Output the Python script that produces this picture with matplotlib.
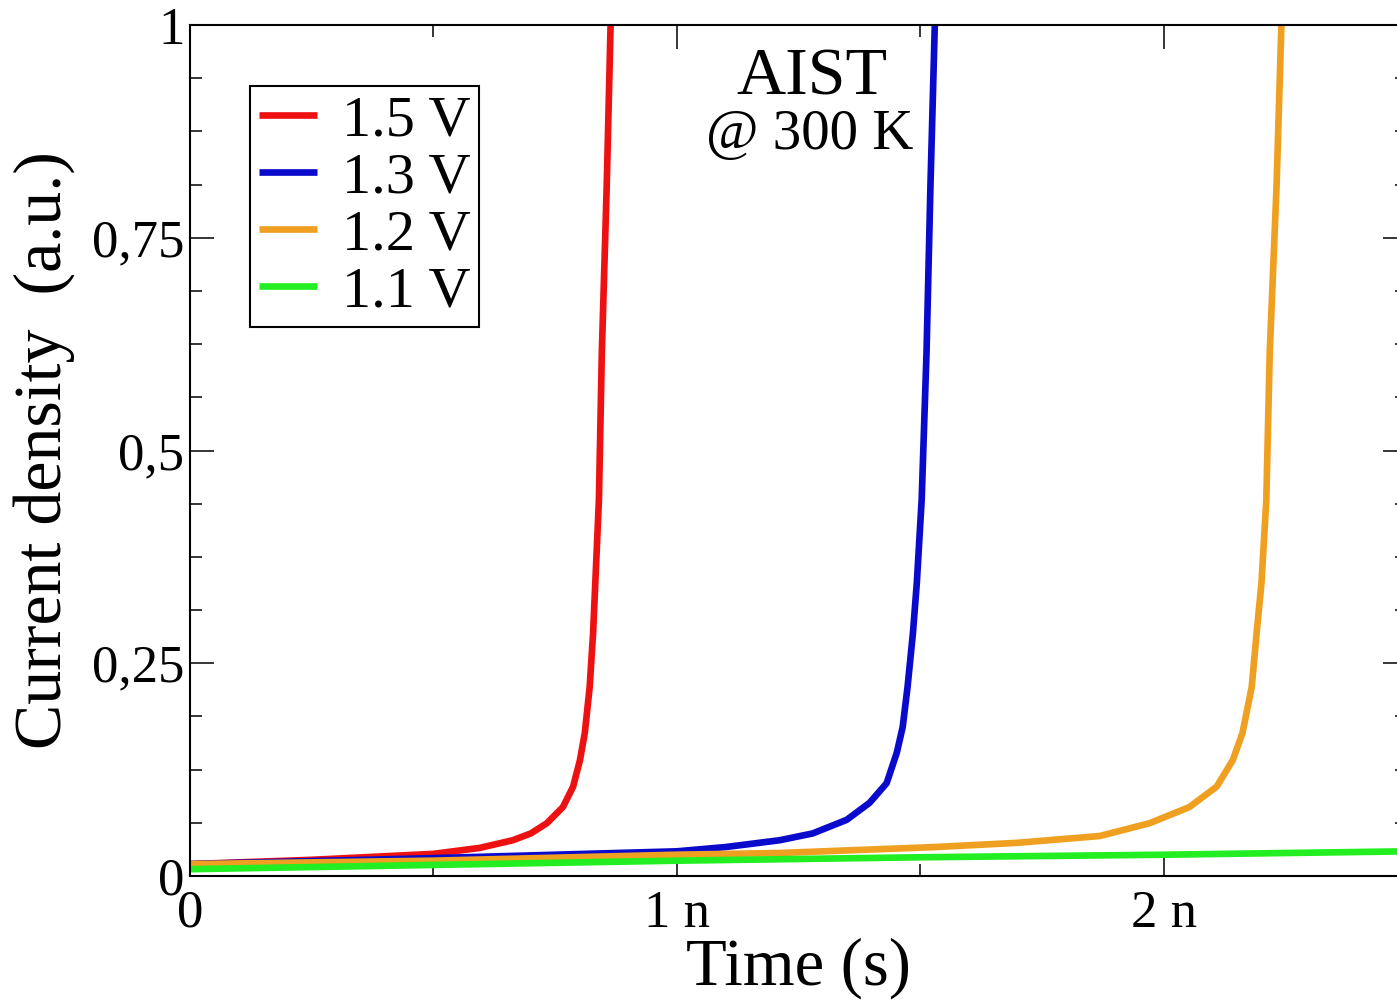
import numpy as np
import matplotlib.pyplot as plt
from matplotlib.ticker import MultipleLocator, FuncFormatter

plt.rcParams['font.family'] = ['Liberation Serif', 'DejaVu Serif']

# ===== Datos (tiempo en ns, corriente en u.a.) =====
t_15 = [0.0, 0.25, 0.5, 0.595, 0.663, 0.70, 0.733, 0.766, 0.787, 0.801, 0.811,
        0.821, 0.828, 0.834, 0.840, 0.846, 0.856, 0.864, 0.870]
j_15 = [0.014, 0.019, 0.026, 0.033, 0.042, 0.050, 0.062, 0.081, 0.105, 0.136, 0.168,
        0.222, 0.285, 0.363, 0.442, 0.615, 0.81, 1.0, 1.05]

t_13 = [0.0, 0.5, 1.0, 1.1, 1.211, 1.279, 1.349, 1.396, 1.431, 1.452, 1.464,
        1.474, 1.485, 1.493, 1.503, 1.513, 1.521, 1.530, 1.536]
j_13 = [0.014, 0.021, 0.029, 0.034, 0.042, 0.050, 0.066, 0.086, 0.109, 0.145, 0.175,
        0.222, 0.285, 0.344, 0.442, 0.615, 0.81, 1.0, 1.05]

t_12 = [0.0, 0.5, 1.0, 1.21, 1.53, 1.70, 1.869, 1.971, 2.053, 2.109, 2.142,
        2.162, 2.181, 2.191, 2.201, 2.211, 2.218, 2.232, 2.242, 2.248]
j_12 = [0.014, 0.018, 0.025, 0.027, 0.034, 0.039, 0.047, 0.062, 0.081, 0.105, 0.136,
        0.168, 0.222, 0.285, 0.344, 0.442, 0.615, 0.81, 1.0, 1.05]

t_11 = [0.0, 0.5, 1.0, 1.5, 2.0, 2.5]
j_11 = [0.008, 0.013, 0.018, 0.022, 0.025, 0.029]

labels = ['1.5 V', '1.3 V', '1.2 V', '1.1 V']
colors = ['#ee1111', '#0a0acc', '#f0a020', '#22ee22']

# ===== Figura =====
W, H = 1397, 1002
fig = plt.figure(figsize=(W / 100, H / 100), dpi=100)
ax = fig.add_axes([190 / W, 126 / H, 1217 / W, 851 / H])

for t, j, lab, c in zip([t_15, t_13, t_12, t_11], [j_15, j_13, j_12, j_11], labels, colors):
    ax.plot(t, j, color=c, lw=4.8, label=lab, solid_capstyle='butt', solid_joinstyle='round')

ax.set_xlim(0, 2.5)
ax.set_ylim(0, 1)

ax.xaxis.set_major_locator(MultipleLocator(1.0))
ax.xaxis.set_minor_locator(MultipleLocator(0.5))
ax.yaxis.set_major_locator(MultipleLocator(0.25))
ax.yaxis.set_minor_locator(MultipleLocator(0.0625))
ax.xaxis.set_major_formatter(FuncFormatter(lambda v, p: '0' if v == 0 else '%d n' % round(v)))
ax.yaxis.set_major_formatter(FuncFormatter(lambda v, p: ('%g' % v).replace('.', ',')))

ax.tick_params(which='both', direction='in', top=True, right=True, width=1.1, labelsize=38)
ax.tick_params(which='major', length=17)
ax.tick_params(which='minor', length=8.5)
ax.tick_params(axis='x', pad=10)
ax.tick_params(axis='y', pad=4)
for s in ax.spines.values():
    s.set_linewidth(1.5)

ax.set_xlabel('Time (s)', fontsize=48, labelpad=0)
ax.set_ylabel('Current density  (a.u.)', fontsize=49, labelpad=12)

leg = ax.legend(loc='upper left', bbox_to_anchor=(250 / W, 1 - 86 / H),
                bbox_transform=fig.transFigure, borderaxespad=0,
                fontsize=42, handlelength=1.0, handletextpad=0.42,
                borderpad=0.15, labelspacing=0.07, fancybox=False,
                edgecolor='black', framealpha=1)
leg.get_frame().set_linewidth(1.5)

fig.text(812 / W, 1 - 78 / H, 'AIST', fontsize=49, ha='center', va='center')
fig.text(810 / W, 1 - 135 / H, '@ 300 K', fontsize=41, ha='center', va='center')

fig.savefig('out.png', dpi=100)
